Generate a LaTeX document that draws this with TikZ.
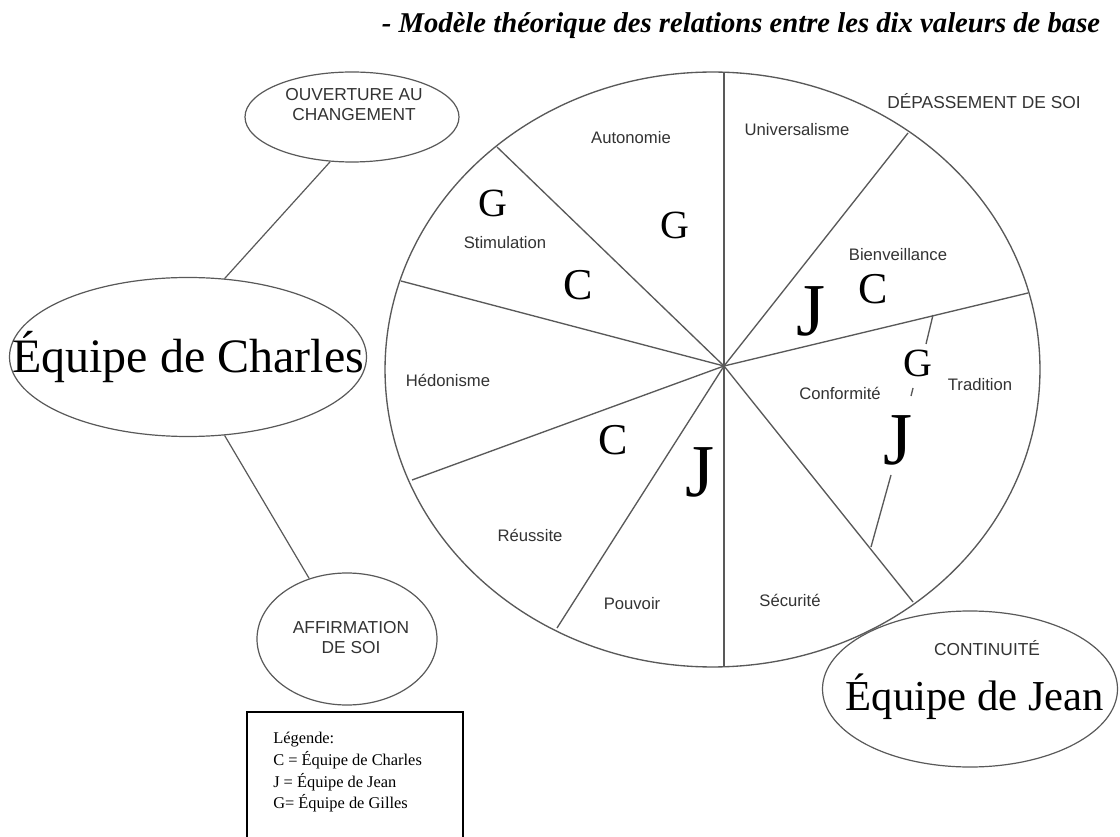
\documentclass[tikz,border=0pt]{standalone}
\usepackage{fontspec}
\setmainfont{Liberation Serif}
\newfontfamily\arial{Liberation Sans}
\usetikzlibrary{shapes.geometric}

\begin{document}
\begin{tikzpicture}[x=0.75pt,y=-0.75pt,
  wheel/.style={draw=black!65, line width=1pt},
  value/.style={font=\arial\fontsize{12.5}{14}\selectfont, text=black!80},
  axis/.style={font=\arial\fontsize{13}{15}\selectfont, text=black!80, align=center},
  equipe/.style={font=\fontsize{36}{40}\selectfont},
  lettreG/.style={font=\fontsize{30}{30}\selectfont},
  lettreC/.style={font=\fontsize{33}{33}\selectfont},
  lettreJ/.style={font=\fontsize{56}{56}\selectfont},
  bulle/.style={ellipse, draw=black!65, line width=0.9pt, inner sep=0pt},
  lien/.style={draw=black!65, line width=0.9pt}]
\useasboundingbox (0,0) rectangle (1120,837);
\fill[white] (0,0) rectangle (1120,837);

% title
\node[font=\bfseries\itshape\fontsize{21.5}{25}\selectfont, anchor=base] (titre) at (741,33)
  {- Modèle théorique des relations entre les dix valeurs de base};

% the wheel of the ten values
\draw[wheel] (712.5,369.5) ellipse [x radius=245.6pt, y radius=223.1pt];
\coordinate (hub) at (724,366);
\coordinate (pN)  at (724,72);
\coordinate (pNE) at (908,133);
\coordinate (pE)  at (1028,293);
\coordinate (pSE) at (913,602);
\coordinate (pS)  at (724,667);
\coordinate (pSW) at (557,628);
\coordinate (pWb) at (412,480);
\coordinate (pWh) at (401,281);
\coordinate (pNW) at (497,147);
\foreach \p in {pN,pNE,pE,pSE,pS,pSW,pWb,pWh,pNW}
  \draw[wheel] (hub) -- (\p);

% broken divider between Conformité and Tradition
\coordinate (t1) at (933,315);
\coordinate (t2) at (926,344);
\coordinate (t3) at (913,388);
\coordinate (t4) at (911,396);
\coordinate (t5) at (891,475);
\coordinate (t6) at (871,547);
\draw[wheel] (t1) -- (t2);
\draw[wheel] (t3) -- (t4);
\draw[wheel] (t5) -- (t6);

% value labels
\node[value] (autonomie) at (631,138) {Autonomie};
\node[value] (universalisme) at (797,130) {Universalisme};
\node[value] (bienveillance) at (898,255) {Bienveillance};
\node[value] (tradition) at (980,385) {Tradition};
\node[value] (conformite) at (840,393) {Conformité};
\node[value] (securite) at (790,600) {Sécurité};
\node[value] (pouvoir) at (632,604) {Pouvoir};
\node[value] (reussite) at (530,535) {Réussite};
\node[value] (hedonisme) at (448,380) {Hédonisme};
\node[value] (stimulation) at (505,243) {Stimulation};
\node[axis] (depassement) at (984,101) {DÉPASSEMENT DE SOI};

% team letters
\node[lettreG] (g1) at (493,203) {G};
\node[lettreG] (g2) at (675,225) {G};
\node[lettreG] (g3) at (918,363) {G};
\node[lettreC] (c1) at (578,285) {C};
\node[lettreC] (c2) at (613,440) {C};
\node[lettreC] (c3) at (873,289) {C};
\node[lettreJ] (j1) at (700,472) {J};
\node[lettreJ] (j2) at (811,311) {J};
\node[lettreJ] (j3) at (898,440) {J};

% bubbles
\node[bulle, minimum width=160.5pt, minimum height=67.5pt] (ouv) at (352,117) {};
\node[axis] (ouvtxt) at (354,105) {OUVERTURE AU\\CHANGEMENT};
\node[bulle, minimum width=267.75pt, minimum height=119.25pt] (charles) at (188,357) {};
\node[equipe] (charlestxt) at (188,357) {Équipe de Charles};
\node[bulle, minimum width=135pt, minimum height=99pt] (affirm) at (347,639) {};
\node[axis] (affirmtxt) at (351,638) {AFFIRMATION\\DE SOI};
\node[bulle, minimum width=221.25pt, minimum height=117pt] (jean) at (970,689) {};
\node[axis] (continuite) at (987,648) {CONTINUITÉ};
\node[font=\fontsize{32}{36}\selectfont] (jeantxt) at (975,697) {Équipe de Jean};

\draw[lien] (ouv.244) -- (charles.65);
\draw[lien] (charles.295) -- (affirm.122);

% legend
\draw[line width=2.2pt] (247,840) |- (463,712) -- (463,840);
\node[anchor=north west, align=left, inner sep=0pt,
      font=\fontsize{12.3}{16.3}\selectfont] (legende) at (273,732)
  {Légende:\\C = Équipe de Charles\\J = Équipe de Jean\\G= Équipe de Gilles};
\end{tikzpicture}
\end{document}
